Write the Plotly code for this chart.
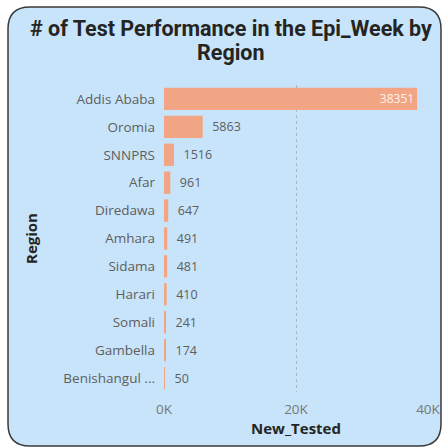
import plotly.graph_objects as go

regions = ["Addis Ababa", "Oromia", "SNNPRS", "Afar", "Diredawa", "Amhara",
           "Sidama", "Harari", "Somali", "Gambella", "Benishangul ..."]
new_tested = [38351, 5863, 1516, 961, 647, 491, 481, 410, 241, 174, 50]
x_tick_vals = [0, 20000, 40000]
x_tick_text = ["0K", "20K", "40K"]
title_lines = ["# of Test Performance in the Epi_Week by", "Region"]

W, H = 444, 448
L, R, T, B = 164, 16, 85, 56
PW, PH = W - L - R, H - T - B

def px(x):
    return (x - L) / PW

def py(y):
    return (H - B - y) / PH

positions = ["inside" if v == max(new_tested) else "outside" for v in new_tested]
labels = [f"{v}" if p == "inside" else f"  {v}" for v, p in zip(new_tested, positions)]

fig = go.Figure(go.Bar(
    x=new_tested, y=regions, orientation="h",
    marker=dict(color="#F2A585", line=dict(width=0)),
    text=labels, textposition=positions, insidetextanchor="end",
    insidetextfont=dict(color="#FFF3EC", size=12.5, family="Open Sans"),
    outsidetextfont=dict(color="#605E5C", size=12.5, family="Open Sans"),
    cliponaxis=False, hoverinfo="skip",
))

# card with rounded corners
x0, y0, x1, y1, r = 8, 7, 441, 446, 22
path = (f"M {px(x0+r)},{py(y0)} L {px(x1-r)},{py(y0)} "
        f"Q {px(x1)},{py(y0)} {px(x1)},{py(y0+r)} L {px(x1)},{py(y1-r)} "
        f"Q {px(x1)},{py(y1)} {px(x1-r)},{py(y1)} L {px(x0+r)},{py(y1)} "
        f"Q {px(x0)},{py(y1)} {px(x0)},{py(y1-r)} L {px(x0)},{py(y0+r)} "
        f"Q {px(x0)},{py(y0)} {px(x0+r)},{py(y0)} Z")

title_font = dict(family="Roboto", size=21.5, color="#252423", weight="bold")
annotations = [
    dict(text=title_lines[0], x=px(231), y=py(29), xref="paper", yref="paper",
         xanchor="center", yanchor="middle", showarrow=False, font=title_font),
    dict(text=title_lines[1], x=px(231), y=py(53), xref="paper", yref="paper",
         xanchor="center", yanchor="middle", showarrow=False, font=title_font),
]

fig.update_layout(
    width=W, height=H,
    margin=dict(l=L, r=R, t=T, b=B, autoexpand=False),
    paper_bgcolor="white", plot_bgcolor="rgba(0,0,0,0)",
    showlegend=False, bargap=0.2,
    shapes=[dict(type="path", path=path, xref="paper", yref="paper",
                 fillcolor="#C7E4FA", line=dict(color="#3A3A3A", width=1.5),
                 layer="below")],
    annotations=annotations,
    font=dict(family="Open Sans", color="#605E5C", size=13.5),
)
fig.update_xaxes(range=[0, 40000], tickvals=x_tick_vals, ticktext=x_tick_text,
                 showgrid=True, gridcolor="#A9B8C6", griddash="dot", gridwidth=1,
                 zeroline=False, showline=False, ticks="", automargin=False,
                 ticklabelstandoff=7,
                 tickfont=dict(size=13.5, color="#777777"),
                 title=dict(text="New_Tested", standoff=6,
                            font=dict(size=15, color="#252423", family="Open Sans", weight="bold")))
fig.update_yaxes(categoryorder="array", categoryarray=regions, autorange="reversed",
                 showgrid=False, zeroline=False, showline=False, ticks="", automargin=False,
                 ticklabelstandoff=8,
                 tickfont=dict(size=13.5, color="#605E5C"),
                 title=dict(text="Region", standoff=22,
                            font=dict(size=15, color="#252423", family="Open Sans", weight="bold")))

fig.write_html("out.html", config={"displayModeBar": False, "responsive": False},
               post_script="document.documentElement.style.overflow='hidden';"
                           "document.body.style.margin='0';document.body.style.overflow='hidden';")
